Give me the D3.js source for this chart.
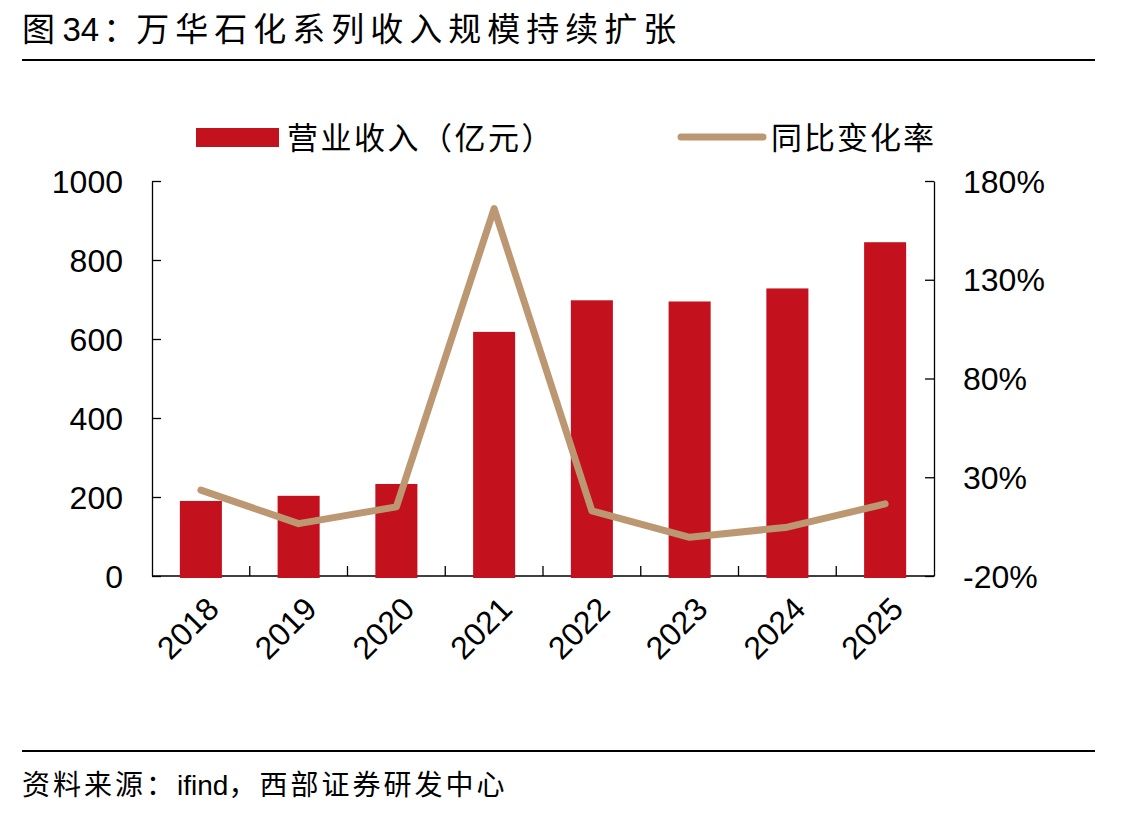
<!DOCTYPE html>
<html>
<head>
<meta charset="utf-8">
<script src="https://cdn.jsdelivr.net/npm/d3@7"></script>
<style>
  html, body { margin: 0; padding: 0; background: #fff; }
  svg { display: block; }
</style>
</head>
<body>
<div id="container"></div>
<script>
const years = ['2018', '2019', '2020', '2021', '2022', '2023', '2024', '2025'];
const revenue = [190, 203, 233, 618, 698, 695, 728, 845];
const yoy = [23.5, 6.5, 15, 166, 13, -0.4, 4.7, 16.5];
const leftTicks = [0, 200, 400, 600, 800, 1000];
const rightTicks = [-20, 30, 80, 130, 180];

const W = 1144, H = 818;
const cnFont = '"Noto Sans CJK SC", sans-serif';
const numFont = '"Liberation Sans", Arial, sans-serif';
const barColor = '#C3111E';
const lineColor = '#BC9872';

const svg = d3.select('#container')
    .append('svg')
    .attr('width', W)
    .attr('height', H);

// title + rules
const title = svg.append('text')
    .attr('x', 22).attr('y', 41)
    .attr('font-family', cnFont)
    .attr('font-size', 33)
    .attr('fill', '#000');
title.append('tspan').text('图 ');
title.append('tspan').attr('font-family', numFont).text('34');
title.append('tspan').attr('dx', 4).text('：');
title.append('tspan').attr('letter-spacing', 6).text('万华石化系列收入规模持续扩张');

svg.append('line')
    .attr('x1', 22).attr('x2', 1095).attr('y1', 60).attr('y2', 60)
    .attr('stroke', '#000').attr('stroke-width', 2);
svg.append('line')
    .attr('x1', 22).attr('x2', 1095).attr('y1', 751).attr('y2', 751)
    .attr('stroke', '#000').attr('stroke-width', 2);

const source = svg.append('text')
    .attr('x', 22).attr('y', 795)
    .attr('font-family', cnFont)
    .attr('font-size', 28)
    .attr('fill', '#000');
source.append('tspan').attr('letter-spacing', 3).text('资料来源：');
source.append('tspan').attr('font-family', numFont).text('ifind');
source.append('tspan').attr('letter-spacing', 3).text('，西部证券研发中心');

const plot = { left: 152, right: 934, top: 181, bottom: 576 };

const x = d3.scaleBand()
    .domain(years)
    .range([plot.left, plot.right])
    .paddingInner(0.57)
    .paddingOuter(0.285);
const band = d3.scaleBand().domain(years).range([plot.left, plot.right]);
const yL = d3.scaleLinear().domain([0, 1000]).range([plot.bottom, plot.top]);
const yR = d3.scaleLinear().domain([-20, 180]).range([plot.bottom, plot.top]);

// axes
const axisStyle = g => {
    g.select('.domain').attr('stroke', '#000').attr('stroke-width', 1.3);
    g.selectAll('.tick line').attr('stroke', '#000').attr('stroke-width', 1.3);
    g.selectAll('.tick text')
        .attr('font-family', numFont)
        .attr('font-size', 32)
        .attr('fill', '#000');
};

svg.append('g')
    .attr('transform', `translate(${plot.left},0)`)
    .call(d3.axisRight(yL).tickValues(leftTicks).tickFormat(d3.format('d')).tickSize(9).tickSizeOuter(0))
    .call(axisStyle)
    .call(g => g.selectAll('.tick text')
        .attr('x', -29).attr('text-anchor', 'end').attr('dy', '0.35em'));

svg.append('g')
    .attr('transform', `translate(${plot.right},0)`)
    .call(d3.axisLeft(yR).tickValues(rightTicks).tickFormat(d => d + '%').tickSize(9).tickSizeOuter(0))
    .call(axisStyle)
    .call(g => g.selectAll('.tick text')
        .attr('x', 29).attr('text-anchor', 'start').attr('dy', '0.35em'));

// x axis baseline with boundary ticks
const xAxis = svg.append('g');
xAxis.append('line')
    .attr('x1', plot.left).attr('x2', plot.right)
    .attr('y1', plot.bottom).attr('y2', plot.bottom)
    .attr('stroke', '#000').attr('stroke-width', 1.3);
xAxis.selectAll('.bt')
    .data(years.slice(1)).enter()
    .append('line')
    .attr('x1', d => band(d)).attr('x2', d => band(d))
    .attr('y1', plot.bottom).attr('y2', plot.bottom - 10)
    .attr('stroke', '#000').attr('stroke-width', 1.3);
xAxis.selectAll('text')
    .data(years).enter()
    .append('text')
    .attr('transform', d => `translate(${band(d) + band.bandwidth() / 2 + 4},${plot.bottom + 19}) rotate(-45)`)
    .attr('text-anchor', 'end')
    .attr('dy', '0.7em')
    .attr('font-family', numFont)
    .attr('font-size', 32)
    .attr('fill', '#000')
    .text(d => d);

// bars (drawn over the baseline)
svg.append('g')
    .selectAll('rect')
    .data(years).enter()
    .append('rect')
    .attr('x', d => x(d))
    .attr('width', x.bandwidth())
    .attr('y', (d, i) => yL(revenue[i]))
    .attr('height', (d, i) => yL(0) - yL(revenue[i]) + 2)
    .attr('fill', barColor);

// yoy line
const line = d3.line()
    .x((d, i) => band(years[i]) + band.bandwidth() / 2)
    .y(d => yR(d));
svg.append('path')
    .datum(yoy)
    .attr('d', line)
    .attr('fill', 'none')
    .attr('stroke', lineColor)
    .attr('stroke-width', 7)
    .attr('stroke-linecap', 'round')
    .attr('stroke-linejoin', 'round');

// legend
const legend = svg.append('g');
legend.append('rect')
    .attr('x', 196).attr('y', 128).attr('width', 83).attr('height', 19)
    .attr('fill', barColor);
legend.append('text')
    .attr('x', 287).attr('y', 149)
    .attr('font-family', cnFont).attr('font-size', 31).attr('letter-spacing', 2.5).attr('fill', '#000')
    .text('营业收入（亿元）');
legend.append('line')
    .attr('x1', 681).attr('x2', 763).attr('y1', 137).attr('y2', 137)
    .attr('stroke', lineColor).attr('stroke-width', 7)
    .attr('stroke-linecap', 'round');
legend.append('text')
    .attr('x', 771).attr('y', 149)
    .attr('font-family', cnFont).attr('font-size', 31).attr('letter-spacing', 2).attr('fill', '#000')
    .text('同比变化率');
</script>
</body>
</html>
